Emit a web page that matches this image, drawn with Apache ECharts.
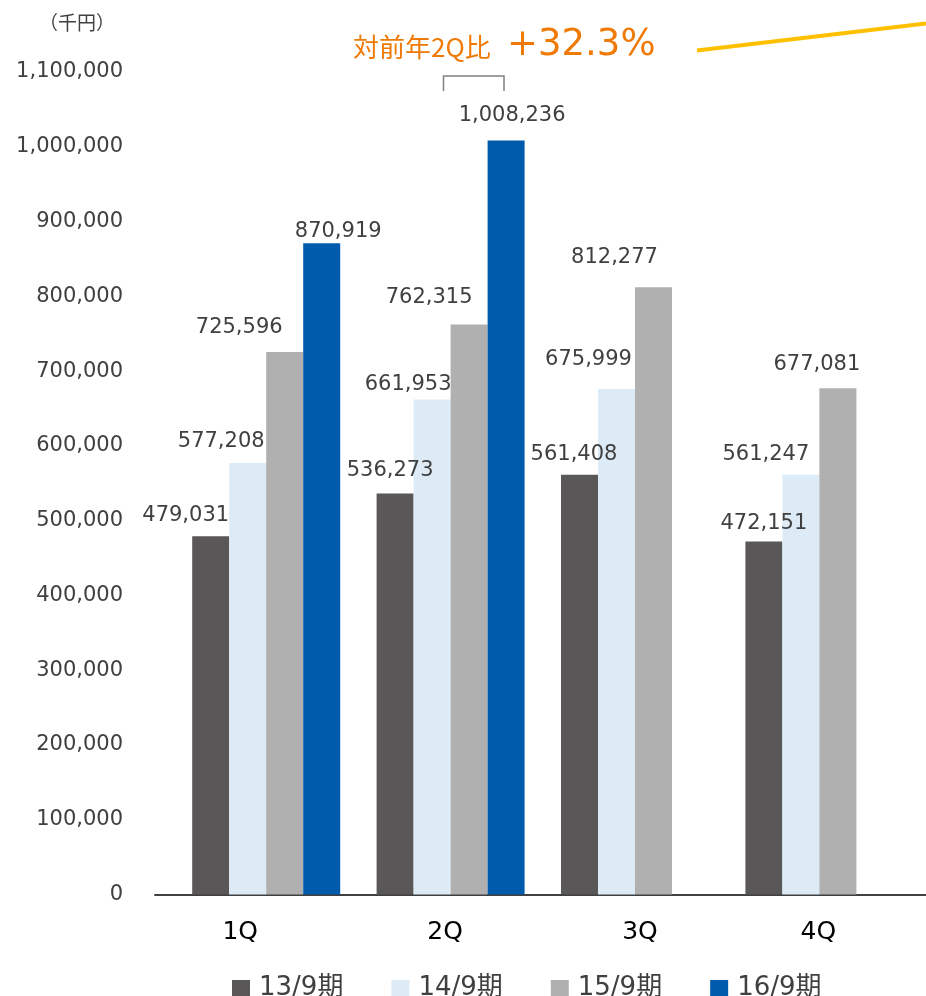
<!DOCTYPE html>
<html>
<head>
<meta charset="utf-8">
<script src="https://cdn.jsdelivr.net/npm/echarts@6/dist/echarts.min.js"></script>
<style>
  html, body { margin: 0; padding: 0; background: #ffffff; }
  #chart { width: 926px; height: 996px; }
</style>
</head>
<body>
<div id="chart"></div>
<script>
// ---- data ----
const categories = ['1Q', '2Q', '3Q', '4Q'];
const seriesNames = ['13/9期', '14/9期', '15/9期', '16/9期'];
const s13 = [479031, 536273, 561408, 472151];
const s14 = [577208, 661953, 675999, 561247];
const s15 = [725596, 762315, 812277, 677081];
const s16 = [870919, 1008236, null, null];
const yMin = 0;
const yMax = 1100000;
const yStep = 100000;
const unitLabel = '（千円）';
const noteText = '対前年2Q比';
const noteValue = '+32.3%';

// ---- styling (label nudges, colours) ----
const colors = ['#595757', '#DDEBF7', '#B0B0B0', '#005BAC'];
const labelShift = [
  [[-25, -10], [-5, -12], [-5.5, -9.5], [0, -7]],
  [[-26.5, -10.5], [-24, -4.5], [-28, -18.5], [-35, -9.5]],
  [[-45.5, -14], [-40, -16], [-39, -19.5], [-21, -13.5]],
  [[16.5, -1], [6, -14.5], [0, 0], [0, 0]]
];
const catPad = [[0, 52, 0, 0], [0, 11, 0, 0], [0, 0, 0, 10], [0, 2, 0, 0]];

const FONT = "'DejaVu Sans', 'Noto Sans CJK JP', sans-serif";
const CJK = "'Noto Sans CJK JP', 'DejaVu Sans', sans-serif";
const fmt = v => String(v).replace(/\B(?=(\d{3})+(?!\d))/g, ',');

const allSeries = [s13, s14, s15, s16];

const chart = echarts.init(document.getElementById('chart'));
const option = {
  animation: false,
  backgroundColor: '#ffffff',
  title: {
    text: unitLabel,
    left: 34, top: 8,
    textStyle: { fontFamily: CJK, fontSize: 19, fontWeight: 'normal', color: '#404040' }
  },
  legend: {
    data: seriesNames,
    left: 232, top: 975,
    padding: 0,
    icon: 'rect',
    itemWidth: 18, itemHeight: 16, itemGap: 48,
    textStyle: { fontFamily: FONT, fontSize: 26, color: '#404040', padding: [0, 0, 0, 4] }
  },
  grid: [
    { left: 174, right: 14.4, top: 72, bottom: 101.5 },
    { left: 155, right: 0, top: 72, bottom: 101.5 }
  ],
  xAxis: [
    {
      type: 'category', gridIndex: 0,
      data: categories.map((c, i) => ({ value: c, textStyle: { padding: catPad[i] } })),
      axisLine: { show: false }, axisTick: { show: false },
      axisLabel: { margin: 25, fontFamily: FONT, fontSize: 25, color: '#000000' }
    },
    {
      type: 'value', gridIndex: 1, min: 0, max: 1,
      axisLine: { show: true, lineStyle: { color: '#404040', width: 2 } },
      axisTick: { show: false }, axisLabel: { show: false }, splitLine: { show: false }
    }
  ],
  yAxis: [
    {
      type: 'value', gridIndex: 0, min: yMin, max: yMax, interval: yStep,
      axisLine: { show: false }, axisTick: { show: false }, splitLine: { show: false },
      axisLabel: { margin: 51, fontFamily: FONT, fontSize: 21, color: '#404040', formatter: v => fmt(v) }
    },
    { type: 'value', gridIndex: 1, show: false, min: 0, max: 1 }
  ],
  series: allSeries.map((arr, si) => ({
    name: seriesNames[si],
    type: 'bar',
    xAxisIndex: 0, yAxisIndex: 0,
    barWidth: 37,
    barGap: '0%',
    itemStyle: { color: colors[si] },
    label: {
      show: true, position: 'top', distance: 0,
      fontFamily: FONT, fontSize: 21, color: '#404040',
      formatter: p => (p.value == null ? '' : fmt(p.value))
    },
    data: arr.map((v, ci) => ({ value: v, label: { offset: labelShift[si][ci] } }))
  })),
  graphic: [
    {
      type: 'text', left: 353, top: 34,
      style: { text: noteText, font: "26px 'Noto Sans CJK JP'", fill: '#EF7A06' }
    },
    {
      type: 'text', left: 507, top: 27,
      style: { text: noteValue, font: "37px 'DejaVu Sans'", fill: '#EF7A06' }
    },
    {
      type: 'polyline',
      shape: { points: [[443.5, 91], [443.5, 76], [504, 76], [504, 91]] },
      style: { stroke: '#808080', lineWidth: 1.5, fill: null }
    },
    {
      type: 'line',
      shape: { x1: 697, y1: 50.5, x2: 926, y2: 23.5 },
      style: { stroke: '#FFC000', lineWidth: 4 }
    }
  ]
};
chart.setOption(option);
</script>
</body>
</html>
